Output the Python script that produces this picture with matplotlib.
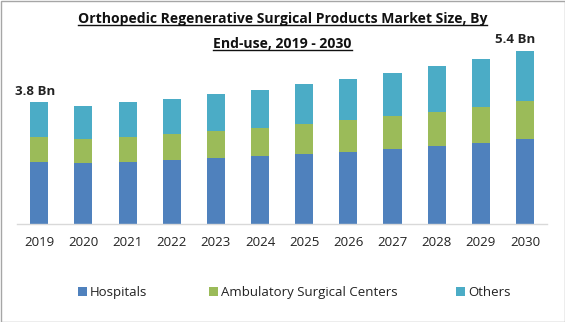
import matplotlib
matplotlib.use("Agg")
import matplotlib.pyplot as plt
from matplotlib.patches import Rectangle
from matplotlib.lines import Line2D
import numpy as np

years = ["2019", "2020", "2021", "2022", "2023", "2024", "2025", "2026", "2027", "2028", "2029", "2030"]
hospitals = [1.94, 1.91, 1.94, 2.00, 2.06, 2.13, 2.19, 2.25, 2.35, 2.44, 2.53, 2.66]
ambulatory = [0.79, 0.75, 0.79, 0.82, 0.85, 0.88, 0.94, 1.00, 1.04, 1.07, 1.13, 1.19]
others = [1.08, 1.04, 1.09, 1.10, 1.16, 1.19, 1.26, 1.29, 1.35, 1.44, 1.51, 1.57]
series_names = ["Hospitals", "Ambulatory Surgical Centers", "Others"]
colors = ["#4F81BD", "#9BBB59", "#4BACC6"]
title_lines = ["Orthopedic Regenerative Surgical Products Market Size, By", "End-use, 2019 - 2030"]
annotations = {0: "3.8 Bn", 11: "5.4 Bn"}

plt.rcParams['font.family'] = ['Open Sans', 'DejaVu Sans']

W, H = 565, 322
fig = plt.figure(figsize=(W / 100, H / 100), dpi=100)
fig.patch.set_facecolor("white")

# axes in pixel coords
left, right = 17.2, 547.0
base_y = 223.7  # from top
top_y = 40.0
ax = fig.add_axes([left / W, (H - base_y) / H, (right - left) / W, (base_y - top_y) / H])
x = np.arange(len(years))
bw = 0.41
b1 = ax.bar(x, hospitals, bw, color=colors[0], label=series_names[0])
b2 = ax.bar(x, ambulatory, bw, bottom=hospitals, color=colors[1], label=series_names[1])
bottom2 = np.array(hospitals) + np.array(ambulatory)
b3 = ax.bar(x, others, bw, bottom=bottom2, color=colors[2], label=series_names[2])
ax.set_xlim(-0.5, len(years) - 0.5)
ax.set_ylim(0, (base_y - top_y) * 0.0314)
for s in ["top", "right", "left"]:
    ax.spines[s].set_visible(False)
ax.spines["bottom"].set_color("#D9D9D9")
ax.spines["bottom"].set_linewidth(1.0)
ax.set_yticks([])
ax.set_xticks(x)
ax.set_xticklabels(years, fontsize=9.5, color="#222222")
ax.tick_params(axis="x", length=0, pad=9)
ax.set_facecolor("none")

totals = bottom2 + np.array(others)
offsets = {0: (-3, 3), 11: (-7, 4)}
for i, lab in annotations.items():
    ax.annotate(lab, (x[i], totals[i]), xytext=offsets[i], textcoords="offset points",
                ha="center", va="bottom", fontsize=9.5, fontweight="bold", color="#222222")

# title with underline
t1 = fig.text(0.5, 1 - 19 / H, title_lines[0], ha="center", va="center", fontsize=10.1, fontweight="bold", color="#111111")
t2 = fig.text(0.5, 1 - 44 / H, title_lines[1], ha="center", va="center", fontsize=10.1, fontweight="bold", color="#111111")
fig.canvas.draw()
r = fig.canvas.get_renderer()
for t in (t1, t2):
    bb = t.get_window_extent(r)
    yy = bb.y0 + 1.0
    fig.add_artist(Line2D([bb.x0 / W, bb.x1 / W], [yy / H, yy / H], color="#111111", lw=1.0,
                          transform=fig.transFigure))

# manual legend
leg_y = 291
sq = 9
leg_x = [78, 209, 456]
for name, c, lx in zip(series_names, colors, leg_x):
    fig.add_artist(Rectangle((lx / W, (H - leg_y - sq / 2) / H), sq / W, sq / H,
                             transform=fig.transFigure, facecolor=c, edgecolor="none"))
    fig.text((lx + sq + 3) / W, (H - leg_y) / H, name, ha="left", va="center_baseline",
             fontsize=9.5, color="#222222")

# border
fig.add_artist(Rectangle((0.5 / W, 0.5 / H), (W - 1) / W, (H - 1) / H, transform=fig.transFigure,
                         fill=False, edgecolor="#A6A6A6", lw=1.0))

fig.savefig("out.png", dpi=100)
